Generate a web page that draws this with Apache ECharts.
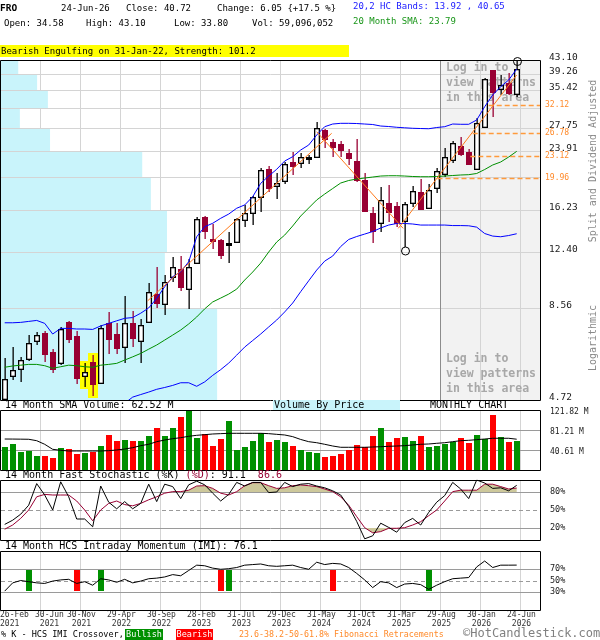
<!DOCTYPE html>
<html><head><meta charset="utf-8">
<script src="https://cdn.jsdelivr.net/npm/echarts@6/dist/echarts.min.js"></script>
<style>html,body{margin:0;padding:0;background:#fff}#c{width:600px;height:640px}</style>
</head><body><div id="c"></div><script>
// ---------------- DATA ----------------
const MONTH_NAMES = ['Jan','Feb','Mar','Apr','May','Jun','Jul','Aug','Sep','Oct','Nov','Dec'];
const months = Array.from({length: 65}, (_, k) => MONTH_NAMES[(1 + k) % 12] + '-' + (2021 + Math.floor((1 + k) / 12)));

const open = [4.76,5.53,5.76,6.17,6.94,7.31,6.45,5.99,7.85,7.15,
  5.53,6.04,5.27,7.80,7.25,6.65,7.77,6.94,7.85,9.40,
  8.80,10.48,11.04,9.70,11.48,15.52,13.42,13.36,12.91,13.19,
  15.19,15.90,17.71,21.17,18.98,19.57,22.20,22.01,22.59,22.89,
  27.33,25.23,24.95,23.58,22.34,19.74,15.90,14.96,17.04,16.68,
  15.15,16.97,18.30,16.43,18.78,20.49,22.44,24.63,23.64,21.21,
  27.93,40.39,35.62,37.04,34.58];
const high = [6.19,6.65,6.25,7.20,7.36,7.41,6.56,7.60,7.90,7.41,
  5.99,6.31,7.69,8.37,7.80,9.28,8.44,7.98,10.08,11.19,
  10.64,11.94,12.04,11.79,15.55,15.62,14.83,13.42,14.08,15.42,
  16.79,17.79,21.31,21.63,20.70,22.24,23.64,23.49,23.23,28.85,
  27.46,25.73,25.40,24.16,25.73,20.70,16.60,18.82,19.11,17.08,
  17.12,18.98,19.83,19.23,21.31,24.36,25.49,26.11,24.16,29.49,
  38.27,40.50,39.10,39.53,43.10];
const low = [4.74,5.38,5.29,6.08,6.75,6.05,5.64,5.92,6.85,5.24,
  5.13,4.86,5.24,6.35,6.35,5.99,6.65,5.99,7.79,8.57,
  8.19,10.17,9.57,8.52,11.43,13.42,12.63,11.78,11.53,13.13,
  14.51,14.70,16.06,18.30,17.41,19.23,20.44,21.39,21.91,22.74,
  24.26,22.89,22.98,21.73,19.52,16.06,13.13,14.10,15.05,14.51,
  12.77,16.60,16.24,16.33,18.18,20.17,22.01,23.08,21.77,21.07,
  27.75,29.80,34.33,34.33,33.80];
const close = [5.40,5.73,6.11,6.82,7.19,6.35,5.76,7.49,7.03,5.46,
  5.65,5.24,7.52,7.03,6.63,7.77,7.06,7.67,9.51,8.86,
  10.15,11.19,9.82,11.19,15.29,14.20,13.27,12.14,13.08,15.29,
  15.90,17.71,21.07,18.78,19.32,21.87,21.67,22.89,22.93,27.64,
  25.73,24.52,24.00,22.83,19.74,16.13,14.17,17.34,16.03,14.90,
  16.86,18.42,16.36,18.50,20.93,22.89,25.07,23.43,21.87,28.55,
  38.10,34.93,36.63,34.67,40.72];

// volume in millions of shares
const volume = [47.3,52.8,37.2,39.2,28.4,28.4,25.0,45.3,43.3,32.5,
  35.2,37.2,48.7,71.1,59.5,60.9,59.5,59.5,69.0,85.9,
  69.0,85.9,108.3,120.5,65.6,72.4,48.7,63.6,99.5,40.6,
  47.3,59.5,74.5,56.9,61.6,56.9,48.7,40.6,37.2,35.2,
  27.1,29.1,33.2,40.6,51.4,47.3,69.7,85.9,57.5,65.6,
  67.7,59.5,69.7,47.3,49.4,53.4,57.5,65.6,55.4,71.7,
  63.6,111.7,67.7,57.5,59.1];
const volSma = [62.9,62.8,62.6,62.4,59.5,52.2,42.0,40.0,38.6,38.6,
  38.6,38.6,38.6,39.3,40.6,42.6,45.3,49.4,52.2,57.5,
  60.9,63.6,65.6,68.4,70.4,71.7,73.1,73.8,74.5,74.5,
  74.5,74.5,74.5,73.8,72.4,71.1,67.7,62.0,57.5,55.4,
  52.2,48.7,46.1,46.1,46.1,46.1,46.7,47.3,48.1,48.7,
  49.4,50.8,52.2,52.8,54.2,55.4,57.5,59.5,60.3,61.6,
  62.9,64.4,64.4,64.4,62.52];

const bbUpper = [7.80,7.80,7.82,7.87,7.92,7.77,7.25,7.52,7.52,7.49,
  7.49,7.47,7.64,7.77,7.90,8.03,8.07,8.30,8.59,9.14,
  9.86,10.52,10.87,11.60,13.65,14.57,14.90,15.39,15.82,16.43,
  16.79,17.71,19.32,20.26,21.17,22.34,22.98,24.00,24.79,26.46,
  27.93,28.42,28.55,28.55,28.51,28.42,28.33,28.05,27.96,27.82,
  27.73,27.64,27.60,27.56,27.78,27.93,28.42,28.37,28.37,29.17,
  31.81,34.33,36.23,37.84,40.65];
const bbLower = [null,null,null,null,null,null,null,null,null,null,
  null,null,null,null,null,4.62,4.81,4.89,4.97,5.06,
  5.12,5.19,5.28,5.28,5.16,5.31,5.54,5.75,6.00,6.32,
  6.66,6.95,7.25,7.59,7.94,8.37,8.87,9.55,10.25,10.99,
  11.65,12.04,12.81,13.41,13.67,13.89,14.12,14.45,14.73,14.88,
  14.88,14.83,14.73,14.73,14.73,14.73,14.68,14.68,14.66,14.53,
  13.94,13.71,13.65,13.76,13.92];
const sma20 = [5.84,5.89,5.92,5.95,5.95,5.90,5.80,5.86,5.92,5.90,
  5.86,5.84,5.92,5.95,5.99,6.12,6.25,6.39,6.57,6.75,
  6.97,7.20,7.44,7.74,8.10,8.54,8.93,9.16,9.40,9.71,
  10.30,10.85,11.50,12.36,13.19,13.80,14.64,15.62,16.46,17.34,
  18.02,18.68,19.36,19.68,19.87,20.00,20.13,20.26,20.30,20.30,
  20.26,20.20,20.17,20.17,20.20,20.26,20.33,20.40,20.44,20.60,
  21.14,21.77,22.20,22.93,23.79];

const stochK = [26,33,43,58,94,75,50,97,72,35,
  35,22,90,63,52,64,52,61,93,64,
  93,89,69,92,98,92,78,65,76,96,
  90,96,96,79,80,96,89,93,94,90,
  87,82,75,56,31,2,7,28,21,13,
  29,36,25,46,63,74,96,85,69,100,
  95,86,87,82,91.1];
const stochD = [18,25,36,50,72,76,75,75,75,65,
  50,32,50,61,65,59,57,61,67,72,
  78,80.6,80.6,83,90,90.5,86,78,75,80.6,
  90.5,95.5,95.5,90.5,86,87,90.5,91.7,90.5,89,
  85,80.6,72,58,39,20.5,12,14,19.5,19.5,
  20.5,25,30.5,40.5,50,65,80.6,83,83,83,
  93,93,89,85,86.6];
const imi = [32,46,50,48,46,45,49,51,52,45,
  48,42,53,51,47,52,46,49,53,54,
  56,60,58,67,76,75,71,69,70,72,
  76,77,78,75,74,75,76,72,69,81,
  77,79,78,72,62,51,38,48,46,38,
  44,45,43,35,42,48,53,54,55,73,
  83,72,76,76,76.1];
const imiBullish = [3, 12, 28, 53];
const imiBearish = [9, 27, 41];
const imiSignalRange = [32.5, 68];

const priceTicks = [4.72, 8.56, 12.40, 16.23, 20.07, 23.91, 27.75, 31.58, 35.42, 39.26, 43.10];
const priceTickLabels = ['4.72','8.56','12.40','16.23','','23.91','27.75','','35.42','39.26','43.10'];
const vbpVolume = [40.1, 30.4, 30.8, 27.8, 26.2, 9.1, 3.5, 8.7, 6.7, 3.2]; // % of width, per price bin from the lowest
const fibLevels = [32.12, 26.78, 23.12, 19.96];
const fibStartMonth = [60.5, 58.5, 58.2, 54.1];
const trendLines = [
  [[17.85, 8.99], [40.87, 26.75]],
  [[39.0, 27.03], [49.8, 14.42]],
  [[49.2, 14.42], [64.0, 39.10]]
];
const swingPoints = [[50, 12.77, -1], [64, 43.10, 1]];
const patternMonths = [10, 11];
const loginFromMonth = 54;

const volTicks = [40.61, 81.21, 121.82];
const volTickLabels = ['40.61 M', '81.21 M', '121.82 M'];
const stochLevels = [20, 50, 80];
const stochLabels = ['20%', '50%', '80%'];
const imiLevels = [30, 50, 70];
const imiLabels = ['30%', '50%', '70%'];

const xTickMonth = [0, 4, 9, 14, 19, 24, 29, 34, 39, 44, 49, 54, 59, 64];
const xTickLabel = ['26-Feb\n2021','30-Jun\n2021','30-Nov\n2021','29-Apr\n2022','30-Sep\n2022','28-Feb\n2023',
  '31-Jul\n2023','29-Dec\n2023','31-May\n2024','31-Oct\n2024','31-Mar\n2025','29-Aug\n2025','30-Jan\n2026','24-Jun\n2026'];

// ---------------- LAYOUT / STYLE ----------------
const FONT = '"DejaVu Sans Mono","Liberation Mono",monospace';
const f = (s, b) => (b ? 'bold ' : '') + s + 'px ' + FONT;
const MAROON = '#990033', GREEN = '#009000', RED = '#ff0000', GRID_C = '#d4d4d4', MID_C = '#9a9a9a';
const VBP_C = '#c9f4fb', FILL_C = '#cdc89b', FIB_C = '#ff9a3c', FIB_LBL = '#ff8a2a';
const XMIN = -0.4625, XMAX = 66.9125, MONTH_END = 0.41;
const PANELS = [{top: 60, height: 340}, {top: 410, height: 60}, {top: 480, height: 60}, {top: 551, height: 59}];
const YREF = [10, 50, 50, 50];
const xLabelNudge = [0, 8];

function T(text, x, y, o) {
  o = o || {};
  const align = o.align || 'left', va = o.va || 'middle';
  const style = {text: text, font: o.font || f(9), fill: o.fill || '#000', align: align, verticalAlign: va, textAlign: align, textVerticalAlign: va};
  if (o.lineHeight) style.lineHeight = o.lineHeight;
  if (o.rich) style.rich = o.rich;
  const el = {type: 'text', x: x, y: y, style: style, silent: true};
  if (o.z != null) el.z = o.z;
  if (o.rotation) el.rotation = o.rotation;
  return el;
}
function cs(panel, data, render, z, extra) {
  return Object.assign({type: 'custom', xAxisIndex: panel, yAxisIndex: panel, data: data, renderItem: render,
    z: z, silent: true, animation: false, clip: false}, extra || {});
}
function hLines(panel, levels, labels, opt) {
  return cs(panel, levels.map((v, k) => [XMIN, v, k]), (params, api) => {
    const c = params.coordSys;
    const y = Math.round(api.coord([XMIN, api.value(1)])[1]);
    const k = api.value(2);
    const ch = [];
    if (!opt.noLine || !opt.noLine(k)) {
      const st = {stroke: opt.color, lineWidth: 1};
      if (opt.dash && opt.dash(k)) st.lineDash = [4, 3];
      ch.push({type: 'line', shape: {x1: c.x, y1: y + 0.5, x2: c.x + c.width, y2: y + 0.5}, style: st});
    }
    if (labels && labels[k]) ch.push(T(labels[k], c.x + c.width + opt.dx, y + opt.dy, {font: opt.font, fill: '#1a1a1a'}));
    return {type: 'group', children: ch};
  }, 2);
}
function vLines(panel) {
  return cs(panel, xTickMonth.slice(1).map(m => [m + MONTH_END, YREF[panel]]), (params, api) => {
    const c = params.coordSys;
    const x = Math.round(api.coord([api.value(0), YREF[panel]])[0]);
    return {type: 'line', shape: {x1: x + 0.5, y1: c.y, x2: x + 0.5, y2: c.y + c.height}, style: {stroke: GRID_C, lineWidth: 1}};
  }, 2);
}
function frame(panel) {
  return cs(panel, [[XMIN, YREF[panel]]], (params) => {
    const c = params.coordSys;
    const x1 = Math.round(c.x) - 0.5, y1 = Math.round(c.y) + 0.5;
    const x2 = Math.round(c.x + c.width) + 0.5, y2 = Math.round(c.y + c.height) + 0.5;
    return {type: 'rect', shape: {x: x1, y: y1, width: x2 - x1, height: y2 - y1}, style: {fill: 'none', stroke: '#000', lineWidth: 1}};
  }, 10);
}
function line(panel, values, color, z, width) {
  return {type: 'line', xAxisIndex: panel, yAxisIndex: panel, data: values.map((v, i) => [i, v]), showSymbol: false, symbol: 'none',
    lineStyle: {color: color, width: width || 1}, z: z, silent: true, animation: false, connectNulls: false};
}

// ---------------- SERIES ----------------
const series = [];
// login (greyed) area
series.push(cs(0, [[loginFromMonth + MONTH_END, 10]], (params, api) => {
  const c = params.coordSys;
  const x = Math.round(api.coord([api.value(0), 10])[0]);
  return {type: 'rect', shape: {x: x, y: c.y, width: c.x + c.width - x, height: c.height}, style: {fill: '#f2f2f2'}};
}, 1));
series.push(cs(0, [[loginFromMonth + MONTH_END, 10]], (params, api) => {
  const c = params.coordSys;
  const x = Math.round(api.coord([api.value(0), 10])[0]);
  return {type: 'line', shape: {x1: x + 0.5, y1: c.y, x2: x + 0.5, y2: c.y + c.height}, style: {stroke: '#8c8c8c', lineWidth: 1}};
}, 3));
// grid lines
series.push(hLines(0, priceTicks, priceTickLabels, {color: GRID_C, dx: 9, dy: -2.5, font: f(9.5)}));
for (let p = 0; p < 4; p++) series.push(vLines(p));
series.push(hLines(1, volTicks, volTickLabels, {color: MID_C, dx: 10, dy: 1.7, font: f(8), noLine: k => k === 2}));
series.push(hLines(2, stochLevels, stochLabels, {color: MID_C, dx: 10, dy: 0, font: f(8.5), dash: k => k === 1}));
series.push(hLines(3, imiLevels, imiLabels, {color: MID_C, dx: 10, dy: 0, font: f(8.5), dash: k => k === 1}));

// volume by price
series.push(cs(0, vbpVolume.map((v, k) => [v, priceTicks[k], priceTicks[k + 1]]), (params, api) => {
  const c = params.coordSys;
  const yLo = Math.round(api.coord([0, api.value(1)])[1]);
  const yHi = Math.round(api.coord([0, api.value(2)])[1]);
  const xR = api.coord([api.value(0), api.value(1)])[0];
  return {type: 'rect', shape: {x: c.x, y: yHi + 1, width: xR - c.x, height: yLo - yHi - 1}, style: {fill: VBP_C}};
}, 3, {xAxisIndex: 4, yAxisIndex: 0}));

// pattern highlight
series.push(cs(0, patternMonths.map(i => [i, low[i], high[i]]), (params, api) => {
  const i = api.value(0);
  const cx = Math.round(api.coord([i, api.value(1)])[0]);
  const yL = Math.round(api.coord([i, api.value(1)])[1]), yH = Math.round(api.coord([i, api.value(2)])[1]);
  return {type: 'rect', shape: {x: cx - 5, y: yH - 2, width: 10, height: yL - yH + 4}, style: {fill: '#ffff00'}};
}, 4));

// candles
series.push(cs(0, open.map((o, i) => [i, o, close[i], low[i], high[i]]), (params, api) => {
  const i = api.value(0), o = api.value(1), c = api.value(2), l = api.value(3), h = api.value(4);
  const pO = api.coord([i, o]);
  const cx = Math.round(pO[0]);
  const yO = pO[1], yC = api.coord([i, c])[1], yL = Math.round(api.coord([i, l])[1]), yH = Math.round(api.coord([i, h])[1]);
  const up = c >= o, col = up ? '#000' : MAROON;
  let top = Math.round(Math.min(yO, yC)), bot = Math.round(Math.max(yO, yC));
  if (bot - top < 2) bot = top + 2;
  const ch = [
    {type: 'rect', shape: {x: cx - 0.5, y: yH, width: 1.3, height: Math.max(yL - yH, 1)}, style: {fill: col}},
    {type: 'rect', shape: {x: cx - 3, y: top, width: 6, height: bot - top + 1}, style: {fill: col}}
  ];
  if (up && bot - top >= 3) ch.push({type: 'rect', shape: {x: cx - 1.7, y: top + 1.3, width: 3.4, height: bot - top - 1.6}, style: {fill: '#fff'}});
  return {type: 'group', children: ch};
}, 5));

// bands, sma, trend lines
series.push(line(0, bbUpper, '#0000ff', 6));
series.push(line(0, bbLower, '#0000ff', 6));
series.push(line(0, sma20, '#008f00', 6));
trendLines.forEach(seg => series.push({type: 'line', xAxisIndex: 0, yAxisIndex: 0, data: seg, showSymbol: false, symbol: 'none',
  lineStyle: {color: '#ff7a1a', width: 1}, z: 6, silent: true, animation: false}));
// fibonacci levels
series.push(cs(0, fibLevels.map((v, k) => [fibStartMonth[k], v]), (params, api) => {
  const c = params.coordSys;
  const p = api.coord([api.value(0), api.value(1)]);
  const y = Math.round(p[1]) + 0.5;
  return {type: 'group', children: [
    {type: 'line', shape: {x1: p[0], y1: y, x2: c.x + c.width, y2: y}, style: {stroke: FIB_C, lineWidth: 1.5, lineDash: [5, 3]}},
    T(api.value(1).toFixed(2), c.x + c.width + 5, y - 0.5, {font: f(8), fill: FIB_LBL})
  ]};
}, 6));
// swing circles
series.push(cs(0, swingPoints, (params, api) => {
  const p = api.coord([api.value(0), api.value(1)]);
  const dir = api.value(2);
  return {type: 'circle', shape: {cx: Math.round(p[0]) + 0.5, cy: Math.round(p[1]) + (dir < 0 ? 4 : 1.5), r: 4},
    style: {fill: 'none', stroke: '#000', lineWidth: 1}};
}, 7));

// volume bars + sma
series.push(cs(1, volume.map((v, i) => [i, v, (i === 0 || close[i] >= close[i - 1]) ? 1 : 0]), (params, api) => {
  const i = api.value(0);
  const p = api.coord([i, api.value(1)]), b = api.coord([i, 0]);
  const cx = Math.round(p[0]), top = Math.round(p[1]);
  return {type: 'rect', shape: {x: cx - 3, y: top, width: 6, height: Math.round(b[1]) - top}, style: {fill: api.value(2) ? GREEN : RED}};
}, 3));
series.push(line(1, volSma, '#000', 4));

// stochastic fill and lines
function bandPolygon(api, values, level, above) {
  const pts = [];
  for (let k = 0; k < values.length; k++) {
    const v = values[k];
    if (k > 0) {
      const a = values[k - 1];
      if ((a - level) * (v - level) < 0) { const t = (level - a) / (v - a); pts.push(api.coord([k - 1 + t, level])); }
    }
    pts.push(api.coord([k, above ? Math.max(v, level) : Math.min(v, level)]));
  }
  pts.push(api.coord([values.length - 1, level]));
  pts.push(api.coord([0, level]));
  return {type: 'polygon', shape: {points: pts}, style: {fill: FILL_C}};
}
series.push(cs(2, [[0, 50]], (params, api) => ({type: 'group', children: [
  bandPolygon(api, stochD, 80, true), bandPolygon(api, stochD, 20, false)]}), 3));
series.push(line(2, stochD, MAROON, 4));
series.push(line(2, stochK, '#000', 5));

// IMI
series.push(cs(3, imiBullish.map(i => [i, 1]).concat(imiBearish.map(i => [i, 0])), (params, api) => {
  const i = api.value(0);
  const a = api.coord([i, imiSignalRange[1]]), b = api.coord([i, imiSignalRange[0]]);
  const cx = Math.round(a[0]);
  return {type: 'rect', shape: {x: cx - 3, y: Math.round(a[1]), width: 6, height: Math.round(b[1]) - Math.round(a[1])},
    style: {fill: api.value(1) ? GREEN : RED}};
}, 3));
series.push(line(3, imi, '#000', 4));

// x labels
series.push(cs(3, xTickMonth.map((m, k) => [m + (k ? MONTH_END : 0), 50, k]), (params, api) => {
  const c = params.coordSys, k = api.value(2);
  let x = api.coord([api.value(0), 50])[0], align = 'center';
  if (k === 0) { x = c.x - 1; align = 'left'; } else { x += 1.5 + (xLabelNudge[k] || 0); }
  return T(xTickLabel[k], x, c.y + c.height + 1, {font: f(8), fill: '#333', align: align, va: 'top', lineHeight: 8.5});
}, 2));

for (let p = 0; p < 4; p++) series.push(frame(p));

// ---------------- TEXT ----------------
const last = 64;
const change = close[last] - close[last - 1];
const graphic = [
  T('FRO', 0, 9, {font: f(9.5, true), z: 20}),
  T('24-Jun-26', 61, 9, {z: 20}),
  T('Close: ' + close[last].toFixed(2), 126, 9, {z: 20}),
  T('Change: ' + change.toFixed(2) + ' {+' + (change / close[last - 1] * 100).toFixed(1) + ' %}', 217, 9, {z: 20}),
  T('Open: ' + open[last].toFixed(2), 4, 24, {z: 20}),
  T('High: ' + high[last].toFixed(2), 86, 24, {z: 20}),
  T('Low: ' + low[last].toFixed(2), 174, 24, {z: 20}),
  T('Vol: 59,096,052', 252, 24, {z: 20}),
  T('20,2 HC Bands: ' + bbLower[last].toFixed(2) + ' , ' + bbUpper[last].toFixed(2), 353, 7, {fill: '#1a1aff', z: 20}),
  T('20 Month SMA: ' + sma20[last].toFixed(2), 353, 22, {fill: '#1a961a', z: 20}),
  {type: 'rect', shape: {x: 0, y: 45, width: 349, height: 12}, style: {fill: '#ffff00'}, z: 19, silent: true},
  T('Bearish Engulfing on 31-Jan-22, Strength: 101.2', 1, 51.5, {z: 20}),
  T('Split and Dividend Adjusted', 593, 161, {font: f(10), fill: '#8a8a8a', align: 'center', rotation: Math.PI / 2, z: 20}),
  T('Logarithmic', 593, 338, {font: f(10), fill: '#8a8a8a', align: 'center', rotation: Math.PI / 2, z: 20}),
  T('Log in to\nview patterns\nin this area', 446, 60.5, {font: f(11.5, true), fill: '#a8a8a8', va: 'top', lineHeight: 15, z: 4}),
  T('Log in to\nview patterns\nin this area', 446, 351.5, {font: f(11.5, true), fill: '#a8a8a8', va: 'top', lineHeight: 15, z: 4}),
  {type: 'rect', shape: {x: 273, y: 400, width: 127, height: 10}, style: {fill: VBP_C}, z: 19, silent: true},
  T('Volume By Price', 274, 405.5, {font: f(10), z: 20}),
  T('14 Month SMA Volume: ' + volSma[last].toFixed(2) + ' M', 5, 405.5, {font: f(10), z: 20}),
  T('MONTHLY CHART', 430, 405.5, {font: f(10), z: 20}),
  T('14 Month Fast Stochastic (%K) {d|(%D)}: ' + stochK[last].toFixed(1) + '  {d|' + stochD[last].toFixed(1) + '}', 5, 475.5,
    {font: f(10), z: 20, rich: {d: {fill: MAROON, font: f(10)}}}),
  T('14 Month HCS Intraday Momentum (IMI): ' + imi[last].toFixed(1), 5, 546, {font: f(10), z: 20}),
  T('% K - HCS IMI Crossover,', 1, 635, {font: f(8.5), z: 20}),
  {type: 'rect', shape: {x: 125, y: 629, width: 38, height: 11}, style: {fill: GREEN}, z: 19, silent: true},
  T('Bullish', 144, 635, {font: f(8.5), fill: '#fff', align: 'center', z: 20}),
  {type: 'rect', shape: {x: 176, y: 629, width: 37, height: 11}, style: {fill: RED}, z: 19, silent: true},
  T('Bearish', 194.5, 635, {font: f(8.5), fill: '#fff', align: 'center', z: 20}),
  T('23.6-38.2-50-61.8% Fibonacci Retracements', 239, 635, {font: f(8.3), fill: FIB_LBL, z: 20}),
  T('\u00a9HotCandlestick.com', 463, 634, {font: f(12), fill: '#808080', z: 20})
];

const option = {
  animation: false,
  backgroundColor: '#fff',
  grid: PANELS.map(p => ({left: 1, width: 539, top: p.top, height: p.height, show: false})),
  xAxis: [0, 1, 2, 3].map(g => ({gridIndex: g, type: 'value', min: XMIN, max: XMAX, show: false}))
    .concat([{gridIndex: 0, type: 'value', min: 0, max: 100, show: false}]),
  yAxis: [
    {gridIndex: 0, type: 'log', logBase: 10, min: priceTicks[0], max: priceTicks[priceTicks.length - 1], show: false},
    {gridIndex: 1, type: 'value', min: 0, max: volTicks[volTicks.length - 1], show: false},
    {gridIndex: 2, type: 'value', min: 0, max: 100, show: false},
    {gridIndex: 3, type: 'value', min: 0, max: 100, show: false}
  ],
  graphic: graphic,
  series: series
};
const chart = echarts.init(document.getElementById('c'), null, {renderer: 'canvas'});
chart.setOption(option);
</script></body></html>
